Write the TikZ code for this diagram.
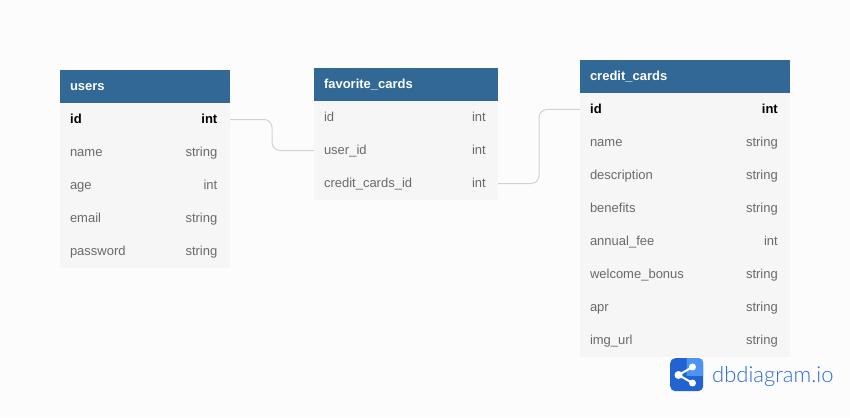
\documentclass[tikz,border=0pt]{standalone}
\usepackage{fontspec}
\setmainfont{Liberation Sans}
\newfontfamily\logofont{Lato Light}
\usetikzlibrary{positioning}
\definecolor{pagebg}{HTML}{FCFCFC}
\definecolor{headblue}{HTML}{316896}
\definecolor{rowgrey}{HTML}{F6F6F6}
\definecolor{textgrey}{HTML}{6A6A6A}
\definecolor{linegrey}{HTML}{D2D2D2}
\definecolor{logodark}{HTML}{2263D2}
\definecolor{logolight}{HTML}{4C93F2}
\definecolor{logotext}{HTML}{2C6CD8}
\tikzstyle{head} = [anchor=north west, fill=headblue, text=white, font=\fontsize{13}{13}\selectfont\bfseries, minimum height=33pt, inner xsep=10pt, inner ysep=0pt, outer sep=0pt, align=left, text height=10pt, text depth=1.5pt]
\tikzstyle{cell} = [fill=rowgrey, text=textgrey, font=\fontsize{13}{13}\selectfont, minimum height=33pt, inner xsep=10pt, inner ysep=0pt, outer sep=0pt, align=left, text height=10pt, text depth=1.5pt]
\tikzstyle{kind} = [text=textgrey, font=\fontsize{13}{13}\selectfont, inner sep=0pt, text height=10pt, text depth=1.5pt]
\tikzstyle{key} = [text=black, font=\fontsize{13}{13}\selectfont\bfseries]
\tikzstyle{rel} = [draw=linegrey, line width=1pt, rounded corners=8pt]
\tikzstyle{dot} = [circle, fill=white, inner sep=0pt, minimum size=6pt]

\begin{document}
\begin{tikzpicture}[x=1pt, y=-1pt]

% page
\node[fill=pagebg, anchor=north west, minimum width=850pt, minimum height=417pt, inner sep=0pt, outer sep=0pt] (page) at (0,0) {};
\useasboundingbox (page.north west) rectangle (page.south east);

% users
\node[head, text width=150pt] (users) at (60,70) {users};
\node[cell, text width=150pt, below=0pt of users] (uid) {};
\node[cell, text width=150pt, below=0pt of uid] (uname) {name};
\node[cell, text width=150pt, below=0pt of uname] (uage) {age};
\node[cell, text width=150pt, below=0pt of uage] (uemail) {email};
\node[cell, text width=150pt, below=0pt of uemail] (upass) {password};
\node[key, right=10pt of uid.west, inner sep=0pt, text height=10pt, text depth=1.5pt] (uidname) {id};
\node[kind, key, left=12.5pt of uid.east] (uidkind) {int};
\node[kind, left=12.5pt of uname.east] (unamekind) {string};
\node[kind, left=12.5pt of uage.east] (uagekind) {int};
\node[kind, left=12.5pt of uemail.east] (uemailkind) {string};
\node[kind, left=12.5pt of upass.east] (upasskind) {string};

% favorite_cards
\node[head, text width=164pt] (fav) at (314,68) {favorite\_cards};
\node[cell, text width=164pt, below=0pt of fav] (fid) {id};
\node[cell, text width=164pt, below=0pt of fid] (fuser) {user\_id};
\node[cell, text width=164pt, below=0pt of fuser] (fcard) {credit\_cards\_id};
\node[kind, left=12pt of fid.east] (fidkind) {int};
\node[kind, left=12pt of fuser.east] (fuserkind) {int};
\node[kind, left=12pt of fcard.east] (fcardkind) {int};

% credit_cards
\node[head, text width=190pt] (card) at (580,60) {credit\_cards};
\node[cell, text width=190pt, below=0pt of card] (cid) {};
\node[cell, text width=190pt, below=0pt of cid] (cname) {name};
\node[cell, text width=190pt, below=0pt of cname] (cdesc) {description};
\node[cell, text width=190pt, below=0pt of cdesc] (cben) {benefits};
\node[cell, text width=190pt, below=0pt of cben] (cfee) {annual\_fee};
\node[cell, text width=190pt, below=0pt of cfee] (cbonus) {welcome\_bonus};
\node[cell, text width=190pt, below=0pt of cbonus] (capr) {apr};
\node[cell, text width=190pt, below=0pt of capr] (cimg) {img\_url};
\node[key, right=10pt of cid.west, inner sep=0pt, text height=10pt, text depth=1.5pt] (cidname) {id};
\node[kind, key, left=12pt of cid.east] (cidkind) {int};
\node[kind, left=12pt of cname.east] (cnamekind) {string};
\node[kind, left=12pt of cdesc.east] (cdesckind) {string};
\node[kind, left=12pt of cben.east] (cbenkind) {string};
\node[kind, left=12pt of cfee.east] (cfeekind) {int};
\node[kind, left=12pt of cbonus.east] (cbonuskind) {string};
\node[kind, left=12pt of capr.east] (caprkind) {string};
\node[kind, left=12pt of cimg.east] (cimgkind) {string};

% relations
\path[rel] (uid.east) -- ++(42,0) |- (fuser.west);
\path[rel] (fcard.east) -- ++(41,0) |- (cid.west);

% logo
\node[fill=logodark, rounded corners=5pt, minimum size=33pt, inner sep=0pt, anchor=north west] (logo) at (670,358) {};
\begin{scope}
\clip (686.5,358) rectangle (703,375);
\fill[logolight, rounded corners=5pt] (logo.north west) rectangle (logo.south east);
\end{scope}
\node[dot, minimum size=8pt] (dotl) at (678.5,375) {};
\node[dot, minimum size=7pt] (dott) at (692.5,367) {};
\node[dot, minimum size=7pt] (dotb) at (692.5,383) {};
\draw[white, line width=2pt] (dott.center) -- (dotl.center) -- (dotb.center);
\node[anchor=base west, inner sep=0pt, text=logotext, font=\logofont\fontsize{22}{22}\selectfont] (logoname) at (712,382) {dbdiagram.io};

\end{tikzpicture}
\end{document}
